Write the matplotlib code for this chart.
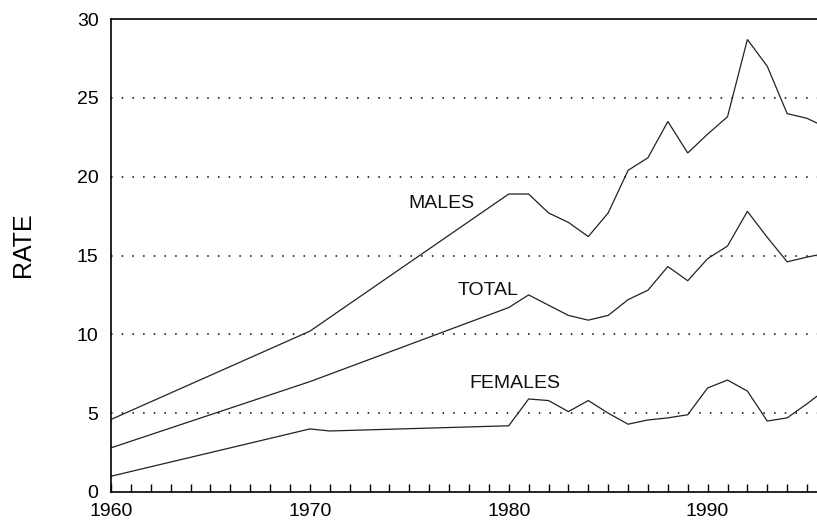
import matplotlib
matplotlib.use("Agg")
import matplotlib.pyplot as plt
from matplotlib.ticker import MultipleLocator

plt.rcParams['font.family'] = ['Liberation Sans', 'DejaVu Sans']

males_years = [1960, 1970, 1980, 1981, 1982, 1983, 1984, 1985, 1986, 1987, 1988,
               1989, 1990, 1991, 1992, 1993, 1994, 1995, 1996]
males = [4.6, 10.2, 18.9, 18.9, 17.7, 17.1, 16.2, 17.7, 20.4, 21.2, 23.5,
         21.5, 22.7, 23.8, 28.7, 27.0, 24.0, 23.7, 23.1]

total_years = [1960, 1970, 1980, 1981, 1982, 1983, 1984, 1985, 1986, 1987, 1988,
               1989, 1990, 1991, 1992, 1993, 1994, 1995, 1996]
total = [2.8, 7.0, 11.7, 12.5, 11.85, 11.2, 10.9, 11.2, 12.2, 12.8, 14.3,
         13.4, 14.8, 15.6, 17.8, 16.15, 14.6, 14.9, 15.15]

females_years = [1960, 1970, 1971, 1980, 1981, 1982, 1983, 1984, 1985, 1986, 1987,
                 1988, 1989, 1990, 1991, 1992, 1993, 1994, 1995, 1996]
females = [1.0, 4.0, 3.87, 4.2, 5.9, 5.8, 5.1, 5.8, 5.0, 4.3, 4.57,
           4.7, 4.9, 6.6, 7.1, 6.4, 4.5, 4.7, 5.6, 6.55]

labels = ["MALES", "TOTAL", "FEMALES"]
label_pos = [(1976.6, 18.3), (1978.95, 12.8), (1980.3, 6.9)]

x_major = [1960, 1970, 1980, 1990]
y_ticks = [0, 5, 10, 15, 20, 25, 30]
grid_levels = [5, 10, 15, 20, 25]

W, H = 817, 521
fig = plt.figure(figsize=(W / 100, H / 100), dpi=100)
ax = fig.add_axes([111 / W, (H - 492) / H, (W - 111) / W, (492 - 19) / H])

line_kw = dict(color='#222222', lw=0.9, solid_joinstyle='miter')
ax.plot(males_years, males, **line_kw)
ax.plot(total_years, total, **line_kw)
ax.plot(females_years, females, **line_kw)

for g in grid_levels:
    ax.axhline(g, color='black', lw=1.1, linestyle=(0, (1, 6.0)), zorder=0)

for txt, (x, y) in zip(labels, label_pos):
    ax.text(x, y, txt, fontsize=14, ha='center', va='center', color='#111111')

ax.set_xlim(1960, 1995.5)
ax.set_ylim(0, 30)
ax.set_xticks(x_major)
ax.xaxis.set_minor_locator(MultipleLocator(1))
ax.set_yticks(y_ticks)
ax.tick_params(axis='x', which='both', direction='in', length=6, width=1.0,
               labelsize=14, pad=8, top=False)
ax.tick_params(axis='y', which='both', length=0, labelsize=14, pad=9)

ax.spines['right'].set_visible(False)
for s in ['left', 'bottom', 'top']:
    ax.spines[s].set_linewidth(1.2)

fig.text(23 / W, 1 - 245 / H, "RATE", rotation=90, fontsize=18,
         ha='center', va='center')

fig.savefig("out.png", dpi=100)
